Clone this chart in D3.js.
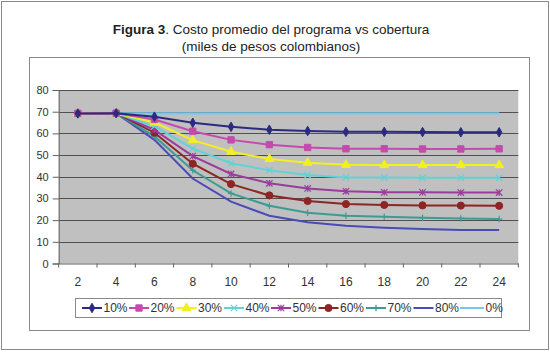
<!DOCTYPE html>
<html><head><meta charset="utf-8">
<script src="https://cdn.jsdelivr.net/npm/d3@7"></script>
<style>body{margin:0;background:#fff}svg{display:block;font-family:"Liberation Sans",Arial,sans-serif}</style>
</head><body><svg id="c" width="550" height="352"></svg>
<script>
const categories = [2,4,6,8,10,12,14,16,18,20,22,24];
const yTicks = [0,10,20,30,40,50,60,70,80];
const seriesNames = ["10%","20%","30%","40%","50%","60%","70%","80%","0%"];
const s10 = [69.2,69.3,67.7,64.9,63.0,61.7,61.1,60.7,60.7,60.6,60.5,60.5];
const s20 = [69.2,69.3,66.4,61.0,57.0,54.8,53.5,52.9,52.9,52.8,52.8,52.9];
const s30 = [69.2,69.3,65.0,56.9,51.5,48.2,46.5,45.5,45.4,45.4,45.4,45.4];
const s40 = [69.2,69.3,63.3,53.0,46.2,43.0,40.8,39.7,39.6,39.5,39.5,39.5];
const s50 = [69.2,69.3,61.6,49.5,41.3,37.0,34.6,33.3,32.8,32.8,32.7,32.7];
const s60 = [69.2,69.3,60.3,46.0,36.6,31.4,28.8,27.4,27.0,26.8,26.7,26.6];
const s70 = [69.2,69.3,58.6,43.0,32.3,26.6,23.4,22.0,21.6,21.1,20.8,20.5];
const s80 = [69.2,69.3,57.0,39.2,28.5,22.0,19.0,17.4,16.5,15.9,15.5,15.4];
const s0  = [69.2,69.2,69.2,69.2,69.2,69.2,69.2,69.2,69.2,69.2,69.2,69.2];
const seriesValues = [s10,s20,s30,s40,s50,s60,s70,s80,s0];
const colors = ["#2a2a80","#c44aae","#f2f020","#62d2d4","#9a3c9c","#8e2424","#3a9c92","#4a4ab8","#78c8ee"];
const markers = ["diamond","square","triangle","x","star","circle","plus","none","none"];

const svg = d3.select("#c");
svg.append("rect").attr("x",1.5).attr("y",1.5).attr("width",547).attr("height",348)
  .attr("fill","#fff").attr("stroke","#8a8a8a").attr("stroke-width",1);
svg.append("rect").attr("x",29.5).attr("y",57.5).attr("width",500).attr("height",273)
  .attr("fill","#fff").attr("stroke","#8a8a8a").attr("stroke-width",1);

const t = svg.append("text").attr("x",271).attr("y",34).attr("text-anchor","middle")
  .attr("font-size",13.5).attr("fill","#222");
t.append("tspan").attr("font-weight","bold").text("Figura 3");
t.append("tspan").text(". Costo promedio del programa vs cobertura");
svg.append("text").attr("x",271).attr("y",51).attr("text-anchor","middle")
  .attr("font-size",13.5).attr("fill","#222").text("(miles de pesos colombianos)");

const L = 58.7, R = 518.3, T = 90, B = 263.5;
const x = d3.scaleBand().domain(categories).range([L,R]);
const y = d3.scaleLinear().domain([0,80]).range([B,T]);

svg.append("rect").attr("x",L).attr("y",T).attr("width",R-L).attr("height",B-T).attr("fill","#c0c0c0");
svg.append("g").selectAll("line").data(yTicks.filter(d=>d>0)).join("line")
  .attr("x1",L).attr("x2",R).attr("y1",d=>Math.round(y(d))+0.5).attr("y2",d=>Math.round(y(d))+0.5)
  .attr("stroke","#505050").attr("stroke-width",1);

const ya = svg.append("g").attr("transform",`translate(${L},0)`)
  .call(d3.axisLeft(y).tickValues(yTicks).tickSize(6).tickPadding(4));
ya.select(".domain").attr("stroke","#606060");
ya.selectAll(".tick line").attr("stroke","#606060");
ya.selectAll("text").attr("font-size",11).attr("fill","#333").attr("font-family","Liberation Sans, Arial, sans-serif");

const xa = svg.append("g").attr("transform",`translate(0,${B})`)
  .call(d3.axisBottom(x).tickSize(0).tickPadding(14));
xa.select(".domain").attr("stroke","#606060");
xa.selectAll("text").attr("font-size",12).attr("fill","#333").attr("font-family","Liberation Sans, Arial, sans-serif");
const bounds = categories.map(c=>x(c)).concat([R]);
svg.append("g").selectAll("line").data(bounds).join("line")
  .attr("x1",d=>d).attr("x2",d=>d).attr("y1",B).attr("y2",B+4).attr("stroke","#606060");

function drawMarker(g, type, color, cx, cy, s){
  const sym = {diamond:d3.symbolDiamond, square:d3.symbolSquare, triangle:d3.symbolTriangle, circle:d3.symbolCircle};
  if(sym[type]){
    const size = {diamond:26, square:40, triangle:34, circle:40}[type]*s;
    g.append("path").attr("d",d3.symbol(sym[type],size)()).attr("transform",`translate(${cx},${cy})`)
      .attr("fill",color).attr("stroke",color);
  } else if(type==="x"||type==="star"||type==="plus"){
    const r = 3.2*Math.sqrt(s);
    const p = d3.path();
    if(type!=="plus"){p.moveTo(cx-r,cy-r);p.lineTo(cx+r,cy+r);p.moveTo(cx-r,cy+r);p.lineTo(cx+r,cy-r);}
    if(type!=="x"){p.moveTo(cx,cy-r);p.lineTo(cx,cy+r);}
    if(type==="plus"){p.moveTo(cx-r,cy);p.lineTo(cx+r,cy);}
    g.append("path").attr("d",p.toString()).attr("stroke",color).attr("stroke-width",1.2).attr("fill","none");
  }
}

const line = d3.line().x((d,i)=>x(categories[i])+x.bandwidth()/2).y(d=>y(d));
for(let k=seriesValues.length-1;k>=0;k--){
  const g = svg.append("g");
  g.append("path").attr("d",line(seriesValues[k])).attr("fill","none")
    .attr("stroke",colors[k]).attr("stroke-width",k===8?2.2:2);
  seriesValues[k].forEach((v,i)=>drawMarker(g,markers[k],colors[k],x(categories[i])+x.bandwidth()/2,y(v),1));
}

svg.append("rect").attr("x",75.5).attr("y",298.5).attr("width",426).attr("height",19)
  .attr("fill","#fff").attr("stroke","#8a8a8a");
const legX = [82,129,176.5,224,271,318.5,366,413.5,460];
seriesNames.forEach((n,k)=>{
  const g = svg.append("g");
  const x0 = legX[k], yy = 308;
  const len = k===8 ? 24 : 20;
  g.append("line").attr("x1",x0).attr("x2",x0+len).attr("y1",yy).attr("y2",yy).attr("stroke",colors[k]).attr("stroke-width",2);
  drawMarker(g,markers[k],colors[k],x0+len/2,yy,1);
  g.append("text").attr("x",x0+len+1.5).attr("y",yy+4).attr("font-size",12).attr("fill","#333").text(n);
});
</script></body></html>
